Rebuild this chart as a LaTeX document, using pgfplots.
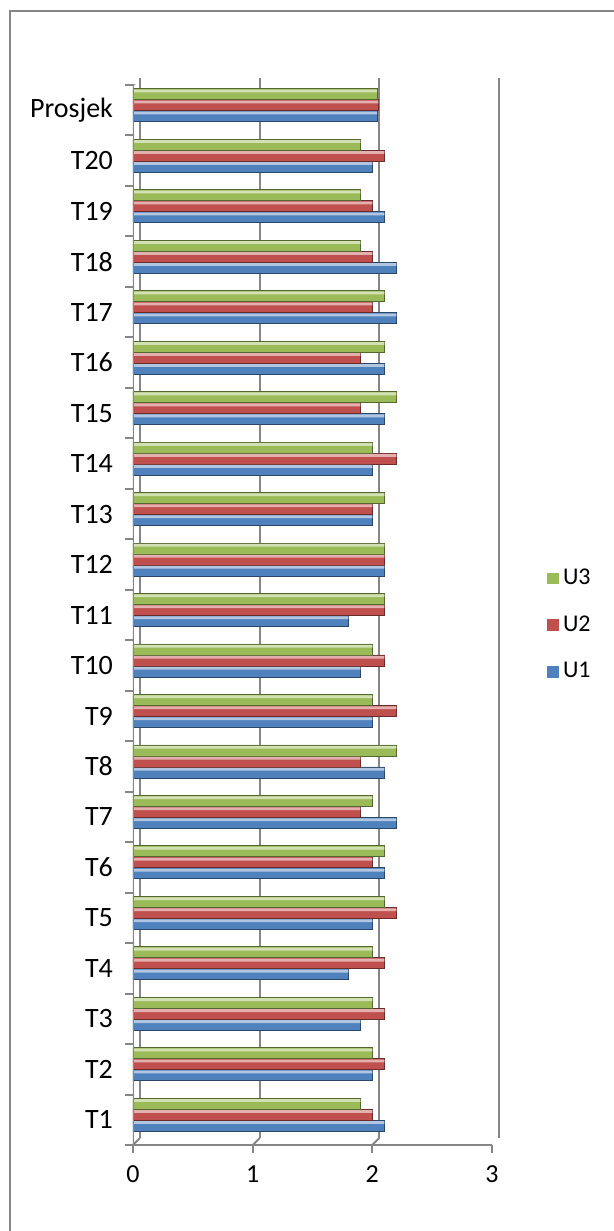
\documentclass[border=0pt]{standalone}
\usepackage{fontspec}
\setmainfont{Carlito}
\usepackage{pgfplots}
\usepackage{pgfplotstable}
\pgfplotsset{compat=1.18}

\definecolor{bU1}{RGB}{79,129,189}
\definecolor{bU2}{RGB}{192,80,77}
\definecolor{bU3}{RGB}{155,187,89}
\definecolor{frame}{RGB}{134,134,134}

% y: 0 = T1 ... 19 = T20, 20 = Prosjek
\pgfplotstableread{
y  u1   u2   u3
0  2.1  2.0  1.9
1  2.0  2.1  2.0
2  1.9  2.1  2.0
3  1.8  2.1  2.0
4  2.0  2.2  2.1
5  2.1  2.0  2.1
6  2.2  1.9  2.0
7  2.1  1.9  2.2
8  2.0  2.2  2.0
9  1.9  2.1  2.0
10 1.8  2.1  2.1
11 2.1  2.1  2.1
12 2.0  2.0  2.1
13 2.0  2.2  2.0
14 2.1  1.9  2.2
15 2.1  1.9  2.1
16 2.2  2.0  2.1
17 2.2  2.0  1.9
18 2.1  2.0  1.9
19 2.0  2.1  1.9
20 2.04 2.05 2.04
}\data

\tikzset{
  cyl/.style={draw=#1!55!black, line width=0.4pt, fill=#1},
  shine/.style={draw=none, fill=#1!45!white},
}

\begin{document}
\begin{tikzpicture}[x=1pt,y=1pt]
\useasboundingbox (0,0) rectangle (307,615.5);
\draw[frame, line width=1pt] (5,0) -- (5,610) -- (307,610);

\begin{axis}[
  at={(66.5pt,43pt)}, anchor=south west,
  scale only axis, width=179.5pt, height=530pt,
  xmin=0, xmax=3, ymin=-0.5, ymax=20.5,
  axis line style={draw=none},
  tick pos=left, tick align=outside, major tick length=4pt,
  tick style={frame, line width=1pt},
  xtick={0,1,2,3},
  /pgf/number format/assume math mode=true,
  xticklabel style={font=\fontsize{13}{15}\selectfont, yshift=-3pt},
  xmajorgrids,
  grid style={frame, line width=1pt, xshift=3.5pt, yshift=3.5pt},
  ytick={-0.5,0.5,...,20.5}, yticklabels={},
  extra y ticks={0,1,...,20},
  extra y tick labels={T1,T2,T3,T4,T5,T6,T7,T8,T9,T10,T11,T12,T13,T14,T15,T16,T17,T18,T19,T20,Prosjek},
  extra y tick style={tick style={draw=none}},
  yticklabel style={font=\fontsize{14}{16}\selectfont, xshift=-2.5pt},
  reverse legend,
  legend style={at={(1,0.5)}, anchor=west, xshift=27.5pt, yshift=-5pt,
    draw=none, fill=none, inner sep=0pt, row sep=10pt,
    font=\fontsize{12}{14}\selectfont, cells={anchor=west}},
]
\addplot[xbar, bar width=5.5pt, bar shift=-3pt, cyl=bU1, forget plot] table[x=u1, y=y] {\data};
\addplot[xbar, bar width=5.5pt, bar shift=2.5pt, cyl=bU2, forget plot] table[x=u2, y=y] {\data};
\addplot[xbar, bar width=5.5pt, bar shift=8pt, cyl=bU3, forget plot] table[x=u3, y=y] {\data};
% light strip along the top of each bar
\addplot[xbar, bar width=1.4pt, bar shift=-1.4pt, shine=bU1, forget plot] table[x=u1, y=y] {\data};
\addplot[xbar, bar width=1.4pt, bar shift=4.1pt, shine=bU2, forget plot] table[x=u2, y=y] {\data};
\addplot[xbar, bar width=1.4pt, bar shift=9.6pt, shine=bU3, forget plot] table[x=u3, y=y] {\data};

\addlegendimage{legend image code/.code={\fill[bU1] (0pt,-2.7pt) rectangle (5.4pt,2.7pt);}}
\addlegendentry{U1}
\addlegendimage{legend image code/.code={\fill[bU2] (0pt,-2.7pt) rectangle (5.4pt,2.7pt);}}
\addlegendentry{U2}
\addlegendimage{legend image code/.code={\fill[bU3] (0pt,-2.7pt) rectangle (5.4pt,2.7pt);}}
\addlegendentry{U3}

% 3-D frame of the chart
\draw[frame, line width=1pt] (axis cs:0,-0.5) -- (axis cs:3,-0.5);
\draw[frame, line width=1pt] (axis cs:0,-0.5) -- (axis cs:0,20.5) -- ([shift={(3.5pt,3.5pt)}]axis cs:0,20.5);
\draw[frame, line width=1pt] (axis cs:0,-0.5) -- ([shift={(3.5pt,3.5pt)}]axis cs:0,-0.5);
\draw[frame, line width=1pt] (axis cs:1,-0.5) -- ([shift={(3.5pt,3.5pt)}]axis cs:1,-0.5);
\draw[frame, line width=1pt] (axis cs:2,-0.5) -- ([shift={(3.5pt,3.5pt)}]axis cs:2,-0.5);
\draw[frame, line width=1pt] (axis cs:3,-0.5) -- ([shift={(3.5pt,3.5pt)}]axis cs:3,-0.5);
\end{axis}
\end{tikzpicture}
\end{document}
